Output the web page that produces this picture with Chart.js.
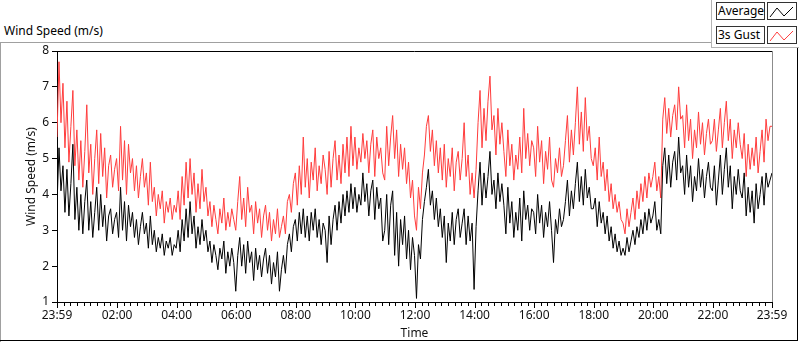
<!DOCTYPE html>
<html>
<head>
<meta charset="utf-8">
<script src="https://cdn.jsdelivr.net/npm/chart.js@4.4.1/dist/chart.umd.min.js"></script>
<style>
  html, body { margin: 0; padding: 0; background: #fff; }
  body { width: 800px; height: 342px; position: relative; overflow: hidden; font-family: 'Noto Sans', sans-serif; }
  .line { position: absolute; }
  #caption { position: absolute; left: 4px; top: 22px; font-size: 12px; color: #000; }
  #legend { position: absolute; left: 711px; top: 0; width: 87px; height: 47px; background: #fff;
            border-left: 1px solid #b4b4b4; border-bottom: 1px solid #b4b4b4; }
  .lg-row { position: absolute; left: 4px; height: 17px; }
  .lg-text { position: absolute; left: 0; top: 0; height: 16px; width: 46px; border: 1px solid #333;
             font-size: 12px; line-height: 16px; padding-left: 1px; box-sizing: content-box; color: #000; }
  .lg-icon { position: absolute; left: 51px; top: 0; width: 28px; height: 16px; border: 1px solid #333; }
  canvas { position: absolute; left: 0; top: 0; }
</style>
</head>
<body>
<div class="line" style="left:0;top:42px;width:711px;height:1px;background:#a0a0a0"></div>
<div class="line" style="left:0;top:42px;width:1px;height:300px;background:#a0a0a0"></div>
<div class="line" style="left:0;top:340px;width:798px;height:1px;background:#000"></div>
<div class="line" style="left:797px;top:47px;width:1px;height:294px;background:#000"></div>
<div id="caption">Wind Speed (m/s)</div>
<div id="legend">
  <div class="lg-row" style="top:2px">
    <div class="lg-text">Average</div>
    <div class="lg-icon"><svg width="28" height="16"><polyline points="2,13 9,4 16,12 25,3" fill="none" stroke="#000" stroke-width="1"/></svg></div>
  </div>
  <div class="lg-row" style="top:26px">
    <div class="lg-text">3s Gust</div>
    <div class="lg-icon"><svg width="28" height="16"><polyline points="2,13 9,4 16,12 25,3" fill="none" stroke="#ff4040" stroke-width="1"/></svg></div>
  </div>
</div>
<canvas id="windChart" width="800" height="342"></canvas>
<script>
// samples every 4 minutes, starting 23:59 the day before (15 per hour)
const sampleStep = 4;

const gustSpeed = [
  5.6, 7.7, 6.0, 7.1, 5.3, 6.6, 4.9, 5.9, 6.9, 4.8, 5.8, 4.4, 5.5, 4.2, 5.2,
  6.5, 4.6, 5.4, 4.0, 5.0, 5.8, 4.3, 5.7, 4.5, 5.3, 3.9, 4.8, 5.1, 4.2, 4.7,
  5.0, 4.1, 5.9, 4.4, 5.5, 4.0, 5.4, 4.6, 5.0, 4.1, 4.8, 3.9, 4.5, 5.0, 4.2,
  4.6, 3.7, 4.9, 3.8, 4.2, 3.4, 4.0, 3.6, 4.1, 3.2, 3.8, 3.5, 3.9, 3.3, 3.7,
  3.5, 4.1, 3.3, 4.5, 3.7, 4.9, 3.9, 5.0, 4.0, 4.6, 3.5, 4.3, 3.6, 4.7, 3.8,
  4.2, 3.4, 3.8, 3.1, 3.7, 3.3, 2.9, 3.6, 3.2, 3.9, 3.0, 3.5, 3.1, 3.6, 3.3,
  3.0, 3.8, 4.5, 3.3, 3.9, 3.1, 4.2, 3.5, 3.7, 2.9, 3.8, 3.2, 3.6, 2.8, 3.4,
  3.7, 3.0, 3.5, 2.7, 3.3, 2.9, 3.6, 2.8, 3.1, 3.4, 2.9, 3.8, 4.0, 3.5, 4.3,
  4.6, 3.7, 4.8, 4.0, 5.6, 4.2, 5.0, 3.9, 4.9, 4.4, 5.3, 4.1, 4.8, 4.3, 5.1,
  4.7, 4.0, 5.2, 4.2, 5.0, 5.5, 4.4, 5.1, 4.3, 5.4, 4.6, 5.6, 4.5, 5.9, 4.8,
  5.6, 4.7, 5.3, 4.9, 5.7, 5.0, 5.5, 4.6, 5.4, 5.8, 4.5, 5.6, 5.0, 5.3, 4.6,
  4.4, 5.9, 4.8, 5.6, 6.2, 5.0, 5.8, 4.5, 5.4, 4.7, 5.3, 4.3, 4.9, 3.9, 4.4,
  3.4, 3.0, 4.2, 3.6, 4.6, 5.1, 5.9, 6.2, 5.2, 5.8, 4.8, 5.5, 4.6, 5.3, 4.4,
  5.4, 4.2, 5.0, 4.5, 5.3, 4.1, 4.9, 5.2, 4.4, 5.0, 6.0, 4.5, 5.1, 4.0, 4.6,
  3.9, 4.7, 6.0, 6.9, 5.3, 6.4, 5.5, 6.6, 7.3, 5.8, 6.2, 5.1, 6.4, 5.4, 6.0,
  5.2, 4.5, 5.8, 4.8, 5.4, 4.4, 5.1, 4.7, 5.6, 4.6, 6.4, 5.0, 5.7, 4.8, 5.5,
  5.3, 4.5, 5.9, 4.9, 5.5, 4.3, 5.2, 4.7, 5.6, 4.4, 4.2, 5.0, 4.6, 5.3, 4.5,
  4.8, 5.5, 6.2, 4.9, 5.8, 5.1, 6.0, 7.0, 5.4, 6.3, 5.2, 6.7, 5.5, 5.9, 5.0,
  4.8, 5.3, 4.4, 5.6, 4.5, 4.9, 4.1, 4.7, 3.8, 4.3, 3.6, 4.0, 3.5, 3.8, 3.3,
  3.2, 2.9, 3.6, 3.1, 3.5, 3.9, 3.3, 4.1, 3.6, 4.3, 3.8, 4.5, 3.9, 4.6, 4.2,
  4.5, 4.9, 4.1, 4.5, 3.9, 6.1, 6.7, 5.7, 6.4, 5.6, 6.2, 6.5, 5.8, 7.0, 6.1,
  6.2, 5.3, 6.5, 5.5, 6.1, 5.0, 5.8, 5.3, 6.3, 5.4, 6.0, 5.1, 5.7, 6.1, 5.4,
  5.5, 6.1, 5.2, 5.8, 6.4, 5.3, 6.0, 6.6, 5.5, 6.1, 5.0, 5.8, 5.3, 6.0, 5.4,
  5.0, 5.7, 4.5, 5.4, 4.7, 5.3, 4.8, 5.6, 4.6, 5.2, 5.8, 4.9, 6.1, 5.5, 5.9,
  5.9
];

const avgSpeed = [
  3.7, 5.3, 4.1, 4.8, 3.5, 4.7, 3.4, 4.3, 5.4, 3.3, 4.2, 3.0, 4.0, 2.9, 3.8,
  4.4, 3.0, 3.8, 2.8, 3.5, 4.2, 3.0, 4.0, 3.1, 3.7, 2.7, 3.4, 3.6, 2.9, 3.3,
  3.5, 2.8, 4.2, 3.0, 3.8, 2.7, 3.7, 3.1, 3.5, 2.8, 3.3, 2.6, 3.1, 3.5, 2.9,
  3.2, 2.5, 3.4, 2.6, 3.0, 2.4, 2.8, 2.5, 2.9, 2.3, 2.7, 2.5, 2.8, 2.3, 2.6,
  2.5, 3.0, 2.4, 3.3, 2.7, 3.6, 2.8, 3.8, 2.9, 3.4, 2.5, 3.1, 2.6, 3.3, 2.7,
  3.0, 2.4, 2.7, 2.1, 2.6, 2.3, 1.9, 2.5, 2.2, 2.7, 1.8, 2.4, 2.0, 2.5, 2.1,
  1.3, 2.3, 2.8, 2.0, 2.6, 1.8, 2.7, 2.1, 2.4, 1.6, 2.5, 1.9, 2.3, 1.7, 2.2,
  2.5, 1.8, 2.3, 1.5, 2.1, 1.7, 2.4, 1.3, 1.9, 2.3, 1.8, 2.6, 2.9, 2.4, 3.1,
  3.3, 2.7, 3.5, 2.9, 3.6, 2.8, 3.4, 2.7, 3.5, 3.0, 3.6, 2.8, 3.3, 2.6, 3.2,
  3.0, 2.1, 3.4, 2.6, 3.3, 3.7, 3.0, 3.8, 3.2, 4.0, 3.4, 4.1, 3.5, 4.3, 3.6,
  4.2, 3.5, 4.0, 3.7, 4.6, 3.8, 4.3, 3.4, 4.1, 4.4, 3.3, 4.2, 3.6, 3.9, 2.7,
  3.0, 4.0, 2.6, 3.7, 4.1, 2.3, 3.5, 2.0, 3.3, 2.6, 3.4, 2.2, 3.0, 1.9, 2.8,
  2.3, 1.1, 2.6, 2.2, 3.3, 3.8, 4.2, 4.7, 3.7, 4.1, 3.3, 3.9, 3.1, 3.6, 2.8,
  3.4, 2.1, 3.2, 2.7, 3.5, 2.6, 3.3, 3.6, 2.8, 3.2, 3.6, 2.6, 3.4, 2.7, 3.2,
  1.35, 3.1, 4.1, 4.9, 3.7, 4.6, 3.9, 4.5, 5.2, 4.0, 4.4, 3.6, 4.6, 3.8, 4.3,
  3.7, 2.9, 4.2, 3.2, 3.8, 2.8, 3.5, 3.0, 3.9, 2.7, 4.1, 3.3, 3.7, 3.0, 3.6,
  3.5, 2.9, 4.0, 3.2, 3.7, 2.8, 3.5, 3.1, 3.8, 3.0, 2.1, 3.3, 2.9, 3.6, 3.1,
  3.3, 3.8, 4.4, 3.4, 4.1, 3.6, 4.3, 4.9, 3.8, 4.5, 3.7, 4.7, 3.9, 4.2, 3.6,
  3.6, 3.9, 3.1, 3.8, 3.2, 3.5, 2.9, 3.4, 2.7, 3.1, 2.5, 2.9, 2.4, 2.7, 2.3,
  2.5, 2.3, 2.8, 2.4, 2.7, 3.0, 2.6, 3.1, 2.8, 3.3, 2.9, 3.5, 3.0, 3.6, 3.2,
  3.4, 3.8, 3.0, 3.3, 2.9, 4.8, 5.3, 4.3, 5.1, 4.2, 4.9, 5.2, 4.4, 5.6, 4.6,
  4.8, 4.0, 5.1, 4.2, 4.8, 3.8, 4.5, 4.1, 5.0, 4.2, 4.7, 3.9, 4.5, 4.9, 4.2,
  4.1, 4.8, 3.7, 4.4, 5.1, 4.0, 4.7, 5.3, 4.2, 4.8, 3.6, 4.5, 4.0, 4.7, 4.1,
  3.9, 4.6, 3.4, 4.2, 3.5, 4.1, 3.2, 4.3, 3.6, 4.0, 4.5, 3.7, 4.6, 4.2, 4.4,
  4.6
];

// x tick positions in minutes after 23:59
const tickMinutes = [0, 121, 241, 361, 481, 601, 721, 841, 961, 1081, 1201, 1321, 1440];
const tickLabels = ['23:59', '02:00', '04:00', '06:00', '08:00', '10:00', '12:00',
                    '14:00', '16:00', '18:00', '20:00', '22:00', '23:59'];
const minorPerMajor = 9;

const toPoints = arr => arr.map((v, i) => ({ x: i * sampleStep, y: v }));

const frameAndTicks = {
    id: 'frameAndTicks',
    afterDraw(chart) {
        const { ctx, chartArea: a, scales: { x } } = chart;
        ctx.save();
        ctx.lineWidth = 1;
        // top frame line + right grey edge
        ctx.strokeStyle = '#000';
        ctx.beginPath();
        ctx.moveTo(a.left, a.top + 0.5);
        ctx.lineTo(a.right, a.top + 0.5);
        ctx.stroke();
        ctx.strokeStyle = '#8c8c8c';
        ctx.beginPath();
        ctx.moveTo(a.right + 0.5, a.top);
        ctx.lineTo(a.right + 0.5, a.bottom);
        ctx.stroke();
        // major + minor time ticks
        ctx.strokeStyle = '#000';
        for (let i = 0; i < tickMinutes.length; i++) {
            const px = Math.round(x.getPixelForValue(tickMinutes[i])) + 0.5;
            ctx.beginPath();
            ctx.moveTo(px, a.bottom);
            ctx.lineTo(px, a.bottom + 6);
            ctx.stroke();
            if (i < tickMinutes.length - 1) {
                const span = tickMinutes[i + 1] - tickMinutes[i];
                for (let k = 1; k < minorPerMajor; k++) {
                    const mx = Math.round(x.getPixelForValue(tickMinutes[i] + span * k / minorPerMajor)) + 0.5;
                    ctx.beginPath();
                    ctx.moveTo(mx, a.bottom);
                    ctx.lineTo(mx, a.bottom + 4);
                    ctx.stroke();
                }
            }
        }
        ctx.restore();
    }
};

new Chart(document.getElementById('windChart'), {
    type: 'line',
    data: {
        datasets: [
            { label: 'Average', data: toPoints(avgSpeed), borderColor: '#000', borderWidth: 1, pointRadius: 0, tension: 0 },
            { label: '3s Gust', data: toPoints(gustSpeed), borderColor: '#ff3c3c', borderWidth: 1, pointRadius: 0, tension: 0 }
        ]
    },
    options: {
        responsive: false,
        animation: false,
        events: [],
        layout: { padding: { top: 51, right: 28, left: 0, bottom: 0 } },
        plugins: { legend: { display: false }, tooltip: { enabled: false } },
        scales: {
            x: {
                type: 'linear',
                min: 0,
                max: 1440,
                afterBuildTicks: scale => { scale.ticks = tickMinutes.map(v => ({ value: v })); },
                afterFit: scale => { scale.height = 40; },
                grid: { display: true, drawOnChartArea: false, drawTicks: false },
                border: { display: true, color: '#000', width: 1 },
                ticks: {
                    autoSkip: false,
                    maxRotation: 0,
                    padding: 6,
                    color: '#111',
                    font: { family: 'Noto Sans', size: 12 },
                    callback: (v, i) => tickLabels[i]
                },
                title: { display: true, text: 'Time', color: '#111', font: { family: 'Noto Sans', size: 12 }, padding: { top: 0, bottom: 1 } }
            },
            y: {
                min: 1,
                max: 8,
                afterFit: scale => { scale.width = 57; },
                grid: { display: true, drawOnChartArea: false, drawTicks: true, tickLength: 5, color: '#000' },
                border: { display: true, color: '#000', width: 1 },
                ticks: { stepSize: 1, padding: 3, color: '#111', font: { family: 'Noto Sans', size: 12 } },
                title: { display: true, text: 'Wind Speed (m/s)', color: '#111', font: { family: 'Noto Sans', size: 12 }, padding: { top: 24, bottom: 0 } }
            }
        }
    },
    plugins: [frameAndTicks]
});
</script>
</body>
</html>
